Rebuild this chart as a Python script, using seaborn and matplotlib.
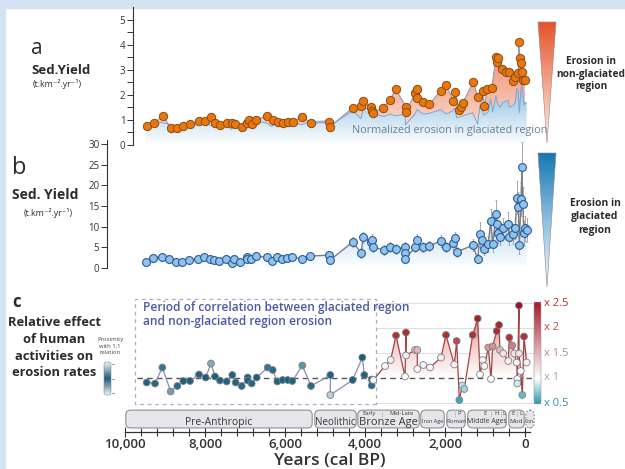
import numpy as np
import pandas as pd
import matplotlib
matplotlib.use('Agg')
import matplotlib.pyplot as plt
import seaborn as sns
from matplotlib.colors import LinearSegmentedColormap, TwoSlopeNorm
from matplotlib.path import Path
from matplotlib.patches import Rectangle, FancyBboxPatch, Polygon

sns.set_theme(style='white')
plt.rcParams['font.family'] = ['Open Sans', 'DejaVu Sans']

# ---------------- data ----------------
# panel a : non-glaciated region sediment yield
A_years = [9458, 9267, 9058, 8858, 8692, 8542, 8375, 8150, 7992, 7850,
           7750, 7625, 7458, 7333, 7250, 7083, 6942, 6908, 6825, 6725,
           6442, 6308, 6183, 6058, 5933, 5808, 5567, 5350, 4892, 4875,
           4308, 4100, 4042, 3858, 3817, 3792, 3542, 3375, 3233, 2975,
           2975, 2750, 2692, 2692, 2558, 2392, 2108, 1975, 1792, 1750,
           1650, 1600, 1558, 1292, 1183, 1058, 1017, 942, 833, 725,
           708, 667, 583, 475, 392, 308, 250, 167, 158, 125,
           108, 75, 58, 0]
A_vals = [0.77, 0.87, 1.17, 0.69, 0.69, 0.76, 0.84, 0.97, 0.97, 1.13,
          0.89, 0.80, 0.87, 0.87, 0.83, 0.71, 0.87, 1.01, 0.83, 1.00,
          1.17, 1.00, 0.93, 0.89, 0.93, 0.93, 1.13, 0.87, 0.91, 0.73,
          1.49, 1.56, 1.77, 1.51, 1.37, 1.29, 1.49, 1.80, 2.23, 1.53,
          1.33, 2.07, 2.23, 1.87, 1.73, 1.63, 2.17, 2.40, 1.77, 2.11,
          1.40, 1.53, 1.67, 2.53, 1.91, 2.17, 1.56, 2.24, 2.27, 3.53,
          3.33, 3.47, 3.03, 2.93, 2.93, 2.57, 2.73, 2.87, 4.13, 3.47,
          3.27, 2.93, 2.60, 2.60]

# panel b : glaciated region sediment yield
B_years = [9483, 9292, 9083, 8892, 8725, 8567, 8392, 8167, 8017, 7875,
           7767, 7642, 7475, 7333, 7267, 7125, 6958, 6958, 6858, 6725,
           6458, 6333, 6208, 6083, 5958, 5817, 5583, 5375, 4892, 4875,
           4308, 4100, 4042, 3858, 3833, 3792, 3525, 3375, 3233, 2992,
           2992, 2992, 2750, 2692, 2558, 2392, 2108, 1975, 1808, 1750,
           1708, 1308, 1183, 1125, 1083, 1025, 917, 858, 808, 725,
           708, 667, 625, 558, 417, 392, 308, 242, 208, 167,
           142, 100, 75, 58, 25, 0, -42]
B_vals = [1.5, 2.5, 2.7, 2.2, 1.4, 1.4, 1.9, 2.2, 2.6, 2.1,
          1.9, 1.7, 2.1, 1.3, 2.3, 1.5, 2.7, 2.1, 2.3, 2.9,
          2.6, 1.8, 2.7, 2.2, 2.5, 2.6, 2.2, 2.9, 3.1, 1.9,
          6.3, 3.7, 7.4, 6.3, 6.9, 5.1, 4.3, 5.1, 4.5, 5.1,
          3.7, 2.1, 5.1, 6.7, 5.1, 5.3, 6.6, 5.1, 6.1, 7.2,
          3.9, 5.5, 2.3, 8.2, 6.7, 4.7, 5.8, 11.4, 5.8, 13.0,
          10.6, 8.5, 7.5, 9.6, 10.6, 7.5, 8.2, 9.6, 17.0, 14.8,
          5.5, 16.6, 24.4, 15.6, 8.4, 9.6, 9.2]
B_err = [0.3, 0.3, 0.6, 0.3, 0.3, 0.3, 0.3, 0.3, 0.3, 0.3,
         0.3, 0.3, 0.3, 0.3, 0.3, 0.3, 0.3, 0.3, 0.3, 0.3,
         0.3, 0.3, 0.3, 0.3, 0.3, 0.3, 0.3, 0.3, 0.8, 0.8,
         1.3, 1.2, 1.4, 1.3, 1.3, 1.2, 1.2, 1.3, 1.2, 1.3,
         1.2, 1.0, 1.3, 1.5, 1.2, 1.3, 1.4, 1.3, 1.4, 1.5,
         1.2, 1.5, 1.0, 3.0, 2.0, 1.5, 2.0, 3.0, 2.0, 3.5,
         3.0, 2.5, 2.0, 2.5, 3.0, 2.0, 2.5, 2.5, 4.0, 3.5,
         2.0, 4.0, 6.0, 4.0, 3.0, 3.0, 3.0]
GLAC_NORM = 0.55   # factor of sqrt(glaciated yield) shown in panel a

# panel c : relative effect of human activities
C_years = [9458, 9250, 9067, 8858, 8692, 8542, 8375, 8150, 7983, 7850,
           7750, 7625, 7458, 7317, 7233, 7083, 6933, 6933, 6833, 6708,
           6433, 6308, 6192, 6058, 5933, 5817, 5567, 5350, 4867, 4867,
           4308, 4067, 4017, 3833, 3833, 3792, 3500, 3358, 3225, 3000,
           2975, 2975, 2750, 2692, 2692, 2542, 2375, 2100, 1975, 1767,
           1708, 1642, 1567, 1517, 1308, 1183, 1125, 1058, 1017, 917,
           850, 808, 708, 650, 625, 542, 417, 392, 317, 267,
           208, 192, 192, 150, 150, 108, 67, 25, -42]
C_vals = [0.91, 0.89, 1.21, 0.73, 0.84, 0.94, 0.94, 1.07, 1.01, 1.29,
          1.03, 0.95, 0.93, 1.06, 0.91, 0.84, 1.01, 0.95, 0.89, 1.01,
          1.21, 1.16, 0.93, 0.96, 0.96, 0.94, 1.25, 0.84, 1.06, 0.66,
          0.96, 1.41, 1.06, 0.97, 0.85, 0.96, 1.24, 1.36, 1.85, 1.03,
          1.91, 1.45, 1.56, 1.56, 1.18, 1.26, 1.21, 1.41, 1.86, 1.27,
          1.74, 0.56, 0.85, 0.78, 1.86, 2.19, 1.07, 1.36, 1.24, 1.61,
          0.98, 1.63, 1.94, 2.06, 1.56, 1.49, 1.34, 1.81, 1.65, 1.49,
          1.31, 0.98, 0.89, 2.45, 1.49, 1.14, 0.66, 1.83, 1.31]
CORR_END = 3792   # end of correlation period (years BP)

# timeline periods
P_names = ["Pre-Anthropic", "Neolithic", "Bronze Age", "Iron Age", "Roman",
           "Middle Ages", "Mod.", "Con."]
P_start = [10000, 5275, 4200, 2625, 1975, 1450, 425, 0]
P_end = [5300, 4200, 2625, 2000, 1475, 450, 0, -250]
P_size = [7.5, 7, 8, 4, 4.3, 5, 4.6, 3.6]

X_TICKS = [10000, 8000, 6000, 4000, 2000, 0]

# ---------------- figure ----------------
W, H = 625, 469
fig = plt.figure(figsize=(W / 100, H / 100), dpi=100, facecolor='white')
TXT = '#2b2b2b'


def add_ax(l, t, r, b, **kw):
    ax = fig.add_axes([l / W, 1 - b / H, (r - l) / W, (b - t) / H], **kw)
    ax.set_facecolor('none')
    return ax


def grad_fill(ax, coll, colors, y0, y1, x0, x1, z, alpha=1.0):
    cmap = LinearSegmentedColormap.from_list('g', colors)
    grad = np.linspace(0, 1, 256).reshape(-1, 1)
    im = ax.imshow(grad, cmap=cmap, aspect='auto', extent=(x0, x1, y0, y1),
                   origin='lower', zorder=z, alpha=alpha, interpolation='bilinear')
    paths = coll.get_paths()
    cp = Path.make_compound_path(*paths)
    im.set_clip_path(cp, transform=ax.transData)
    coll.remove()
    return im


# background overlay (pixel coordinates)
bg = fig.add_axes([0, 0, 1, 1])
bg.set_xlim(0, W)
bg.set_ylim(H, 0)
bg.axis('off')
bg.add_patch(Rectangle((0, 0), W, 8, color='#d3e3f1', zorder=0))
bg.add_patch(Rectangle((0, 0), 5, H, color='#d3e3f1', zorder=0))

# ---------------- panel a ----------------
axa = add_ax(133, 7.5, 540, 145)
XL_A = (9800, -375)
pc = axa.fill_between(A_years, A_vals, 0, lw=0)
grad_fill(axa, pc, ['#fde8e0', '#ef8a6c'], 0, 4.0, XL_A[0], XL_A[1], z=1)
glac = np.sqrt(np.array(B_vals)) * GLAC_NORM
pc2 = axa.fill_between(B_years, glac, 0, lw=0)
grad_fill(axa, pc2, ['#ffffff', '#92c3e4'], 0, 2.2, XL_A[0], XL_A[1], z=2)
sns.lineplot(x=B_years, y=glac, sort=False, estimator=None, ax=axa,
             color='#7fa6d0', lw=0.7, zorder=3)
sns.lineplot(x=A_years, y=A_vals, sort=False, estimator=None, ax=axa,
             color='#8f9bbb', lw=0.8, zorder=4)
sns.scatterplot(x=A_years, y=A_vals, s=36, color='#e8780e', edgecolor='#8a4b12',
                linewidth=0.7, zorder=5, ax=axa)
axa.set_xlim(*XL_A)
axa.set_ylim(0, 5.5)
axa.set_yticks(range(0, 6))
axa.set_yticks(np.arange(0.5, 5.5, 1.0), minor=True)
axa.set_xticks([])
for s in ['top', 'right', 'bottom']:
    axa.spines[s].set_visible(False)
axa.spines['left'].set_color('#333333')
axa.spines['left'].set_linewidth(0.8)
axa.tick_params(axis='y', which='both', direction='out', length=4, width=0.7,
                colors='#333333', labelsize=7, pad=1.5, left=True)

# ---------------- panel b ----------------
axb = add_ax(107, 140, 540, 268)
XL_B = (10450, -375)
pc3 = axb.fill_between(B_years, B_vals, 0, lw=0)
grad_fill(axb, pc3, ['#ffffff', '#c9e1f3'], 0, 9, XL_B[0], XL_B[1], z=1)
axb.errorbar(B_years, B_vals, yerr=B_err, fmt='none', ecolor='#9a9a9a',
             elinewidth=0.6, capsize=1, capthick=0.5, zorder=2)
sns.lineplot(x=B_years, y=B_vals, sort=False, estimator=None, ax=axb,
             color='#7c7c86', lw=1.0, zorder=3)
sns.scatterplot(x=B_years, y=B_vals, s=32, color='#8ec3ec', edgecolor='#2d5a98',
                linewidth=0.8, zorder=5, ax=axb)
axb.set_xlim(*XL_B)
axb.set_ylim(0, 31)
axb.set_yticks(range(0, 31, 5))
axb.set_xticks([])
for s in ['top', 'right', 'bottom']:
    axb.spines[s].set_visible(False)
axb.spines['left'].set_color('#333333')
axb.spines['left'].set_linewidth(0.8)
axb.tick_params(axis='y', which='both', direction='out', length=4, width=0.7,
                colors='#333333', labelsize=7, pad=1.5, left=True)

# ---------------- panel c ----------------
axc = add_ax(130, 303, 537, 403)
XL_C = (9875, -300)
cy = np.array(C_years)
cv = np.array(C_vals)
split = int(np.where(cy == CORR_END)[0][0])
ry, rv = cy[split:], cv[split:]
pc4 = axc.fill_between(ry, rv, 1, where=rv > 1, interpolate=True, lw=0)
grad_fill(axc, pc4, ['#ffffff', '#f0c4c0', '#c04545'], 1, 2.45, XL_C[0], XL_C[1], z=1)
for gv in [0.5, 1.5, 2.0, 2.5]:
    axc.plot([3725, -250], [gv, gv], color='#dcdcdc', lw=0.7, zorder=0.5,
             clip_on=False)
axc.plot([9700, -250], [1, 1], color='#555555', lw=1.0, ls=(0, (4, 3)),
         zorder=2, clip_on=False)
axc.add_patch(Rectangle((3725, 0.49), 9750 - 3725, 2.09, fill=False,
                        ec='#a7adbd', lw=0.9, ls=(0, (3, 3)), clip_on=False, zorder=0.5))
sns.lineplot(x=cy[:split + 1], y=cv[:split + 1], sort=False, estimator=None,
             ax=axc, color='#8a8cae', lw=0.9, zorder=3)
sns.lineplot(x=ry, y=rv, sort=False, estimator=None, ax=axc,
             color='#a04444', lw=0.9, zorder=3)
prox_cmap = LinearSegmentedColormap.from_list('p', ['#1b5d78', '#2c6f8a', '#f3f6f9'])
div_cmap = LinearSegmentedColormap.from_list(
    'd', [(0, '#2a98ae'), (0.5, '#ffffff'), (0.66, '#f6e8e8'),
          (0.76, '#b53333'), (1, '#98121f')])
div_norm = TwoSlopeNorm(vcenter=1, vmin=0.5, vmax=2.5)
cols = []
for yr, v in zip(cy, cv):
    if yr > CORR_END:
        cols.append(prox_cmap(min(abs(v - 1) / 0.4, 1)))
    else:
        cols.append(div_cmap(div_norm(v)))
sns.scatterplot(x=cy, y=cv, s=24, c=cols, edgecolor='#7a7f8a', linewidth=0.6,
                zorder=5, ax=axc, clip_on=False)
axc.set_xlim(*XL_C)
axc.set_ylim(0.5, 2.5)
axc.axis('off')

# ---------------- timeline + x axis ----------------
axt = add_ax(120, 405, 540, 432)
XL_T = (10125, -375)
axt.set_xlim(*XL_T)
axt.set_ylim(0, 1)
asp = (1 / 27) / 25
for name, s0, s1, fs in zip(P_names, P_start, P_end, P_size):
    ls = (0, (1.5, 1.5)) if name == "Con." else '-'
    box = FancyBboxPatch((s1 + 20, 0.15), (s0 - s1) - 40, 0.66,
                         boxstyle='round,pad=0,rounding_size=120',
                         mutation_aspect=asp, fc='#e5e6e9', ec='#8e8e94',
                         lw=0.8, ls=ls, zorder=2)
    axt.add_patch(box)
    ty = 0.36 if name in ("Pre-Anthropic", "Neolithic", "Bronze Age") else 0.4
    axt.text((s0 + s1) / 2, ty, name, ha='center', va='center', fontsize=fs,
             color='#3a3a3a', zorder=3)
sub = dict(ha='center', va='center', fontsize=4.2, color='#3a3a3a', zorder=3)
axt.text(3890, 0.68, "Early", **sub)
axt.text(3100, 0.68, "Mid-Late", **sub)
axt.plot([3575, 3575], [0.58, 0.78], color='#666', lw=0.5, ls=':', zorder=3)
axt.text(1650, 0.68, "P", **sub)
axt.plot([1760, 1760], [0.58, 0.78], color='#666', lw=0.5, ls=':', zorder=3)
for lab, xx in [("E", 1000), ("H", 700), ("L", 520)]:
    axt.text(xx, 0.68, lab, **sub)
for xx in [850, 600]:
    axt.plot([xx, xx], [0.58, 0.78], color='#666', lw=0.5, ls=':', zorder=3)
axt.text(300, 0.68, "E", **sub)
axt.text(110, 0.68, "L", **sub)
axt.plot([200, 200], [0.58, 0.78], color='#666', lw=0.5, ls=':', zorder=3)

for s in ['top', 'right', 'left']:
    axt.spines[s].set_visible(False)
axt.spines['bottom'].set_color('#333333')
axt.spines['bottom'].set_linewidth(0.9)
axt.spines['bottom'].set_bounds(10000, -125)
axt.set_yticks([])
axt.set_xticks(X_TICKS)
axt.set_xticks(np.arange(0, 10001, 400), minor=True)
axt.set_xticklabels([f"{t:,}" for t in X_TICKS], fontsize=9.5,
                    fontweight='semibold', color='#333333')
axt.tick_params(axis='x', which='both', direction='inout', length=7, width=0.8,
                colors='#333333', pad=1, bottom=True)
axt.tick_params(axis='x', which='minor', length=6)
axt.set_xlabel("Years (cal BP)", fontsize=12.5, fontweight='semibold',
               color='#333333', labelpad=1)

# ---------------- top overlay: legends and texts ----------------
ov = fig.add_axes([0, 0, 1, 1])
ov.set_facecolor('none')
ov.set_xlim(0, W)
ov.set_ylim(H, 0)
ov.axis('off')


def tri(x0, x1, ytop, ytip, colors):
    cmap = LinearSegmentedColormap.from_list('t', colors)
    grad = np.linspace(0, 1, 256).reshape(-1, 1)
    im = ov.imshow(grad, cmap=cmap, aspect='auto', extent=(x0, x1, ytip, ytop),
                   origin='lower', zorder=2, interpolation='bilinear')
    poly = Polygon([(x0, ytop), (x1, ytop), ((x0 + x1) / 2, ytip)],
                   closed=True, fc='none', ec='#9a8080', lw=0.4, zorder=3)
    ov.add_patch(poly)
    im.set_clip_path(poly)


tri(538, 556, 22, 143, ['#fdf1ee', '#f3a48c', '#e4542a'])
tri(538, 556, 153, 287, ['#f4f8fb', '#8cc0e0', '#1677b4'])

cb_cmap = LinearSegmentedColormap.from_list(
    'cb', [(0, '#2a98ae'), (0.25, '#ffffff'), (1, '#a31b2b')])
grad = np.linspace(0, 1, 256).reshape(-1, 1)
ov.imshow(grad, cmap=cb_cmap, aspect='auto', extent=(534, 541, 404, 302),
          origin='lower', zorder=2, interpolation='bilinear')
ov.add_patch(FancyBboxPatch((534, 302), 7, 102, boxstyle='round,pad=0,rounding_size=3',
                            fc='none', ec='#999999', lw=0.4, zorder=3))
for lab, yy, col in [("x 2.5", 303, '#b32a2a'), ("x 2", 328, '#c04444'),
                     ("x 1.5", 353, '#b58a8a'), ("x 1", 378, '#9aa6b6'),
                     ("x 0.5", 403, '#3a8ea8')]:
    ov.text(544, yy, lab, ha='left', va='center', fontsize=8, color=col)

prox_bar = LinearSegmentedColormap.from_list('pb', ['#f2f5f8', '#1b5d78', '#f2f5f8'])
ov.imshow(grad, cmap=prox_bar, aspect='auto', extent=(104, 111, 395, 362),
          origin='lower', zorder=2, interpolation='bilinear')
ov.add_patch(FancyBboxPatch((104, 362), 7, 33, boxstyle='round,pad=0,rounding_size=2.5',
                            fc='none', ec='#8a8a8a', lw=0.4, zorder=3))
for yy in [364, 379, 393]:
    ov.plot([112, 114], [yy, yy], color='#555', lw=0.5)
for i, t in enumerate(["Proximity", "with 1:1", "relation"]):
    ov.text(110, 340 + i * 6.5, t, ha='center', va='center', fontsize=4.2, color='#444444')

ov.text(31, 48, "a", ha='left', va='center', fontsize=15, color=TXT)
ov.text(31, 71, "Sed.Yield", ha='left', va='center', fontsize=9.5, fontweight='bold', color=TXT)
ov.text(33, 84, "(t.km⁻².yr⁻¹)", ha='left', va='center', fontsize=6.3, color=TXT)
ov.text(12, 168, "b", ha='left', va='center', fontsize=17, color=TXT)
ov.text(12, 195, "Sed. Yield", ha='left', va='center', fontsize=10, fontweight='bold', color=TXT)
ov.text(24, 213, "(t.km⁻².yr⁻¹)", ha='left', va='center', fontsize=6.3, color=TXT)
ov.text(12, 302, "c", ha='left', va='center', fontsize=12, fontweight='bold', color=TXT)
for i, t in enumerate(["Relative effect", "of human", "activities on", "erosion rates"]):
    ov.text(54, 323 + i * 16.5, t, ha='center', va='center', fontsize=9.3,
            fontweight='bold', color=TXT)

for i, t in enumerate(["Erosion in", "non-glaciated", "region"]):
    ov.text(591, 62 + i * 12.5, t, ha='center', va='center', fontsize=7.3,
            fontweight='bold', color=TXT)
for i, t in enumerate(["Erosion in", "glaciated", "region"]):
    ov.text(595, 203 + i * 14, t, ha='center', va='center', fontsize=7.5,
            fontweight='bold', color=TXT)

ov.text(352, 131, "Normalized erosion in glaciated region", ha='left', va='center',
        fontsize=7.8, color='#6c7c9c', zorder=5)
ov.text(143, 308, "Period of correlation between glaciated region", ha='left',
        va='center', fontsize=8.6, fontweight='semibold', color='#4a58a6')
ov.text(143, 322, "and non-glaciated region erosion", ha='left',
        va='center', fontsize=8.6, fontweight='semibold', color='#4a58a6')

fig.savefig('out.png', dpi=100, facecolor='white')
